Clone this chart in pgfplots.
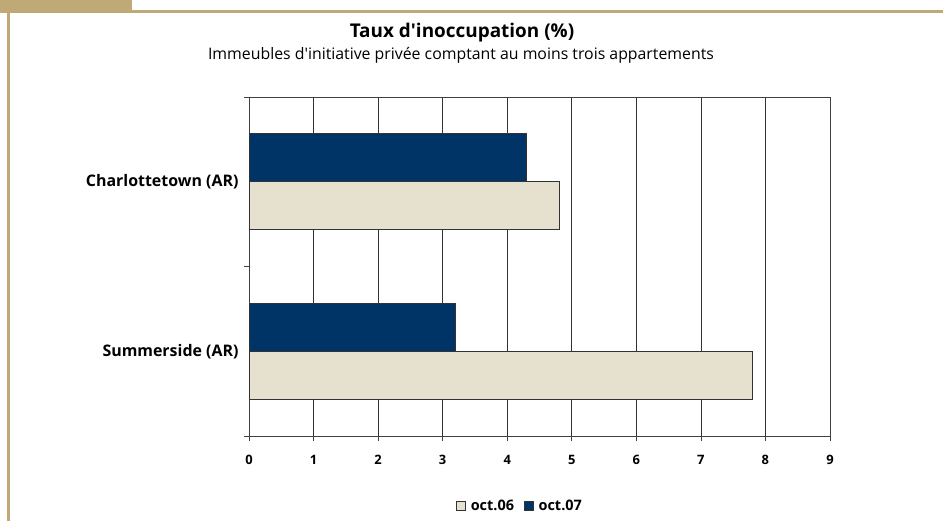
\documentclass[border=0pt]{standalone}
\usepackage{fontspec}
\setmainfont{Open Sans}
\usepackage{pgfplots}
\pgfplotsset{compat=1.18}
\definecolor{navy}{HTML}{003366}
\definecolor{beige}{HTML}{E6E0CF}
\definecolor{tan}{HTML}{BFA977}
\definecolor{axgray}{HTML}{404040}
\begin{document}
\begin{tikzpicture}
\path[use as bounding box] (0,0) rectangle (943bp,-521bp);
\fill[white] (0,0) rectangle (943bp,-521bp);
% frame decoration
\fill[tan] (0,0) rectangle (132bp,-10bp);
\fill[tan] (0,-9.5bp) rectangle (943bp,-12.5bp);
\fill[tan] (7bp,-9.5bp) rectangle (9.5bp,-521bp);
% titles
\node[font=\fontsize{19}{22}\selectfont\bfseries] at (462bp,-33bp) {Taux d\textquotesingle inoccupation (\%)};
\node[font=\fontsize{15.9}{18}\selectfont] at (461bp,-55bp) {Immeubles d\textquotesingle initiative privée comptant au moins trois appartements};
\begin{axis}[
  at={(249bp,-436bp)}, anchor=south west,
  scale only axis, width=581bp, height=339bp,
  xmin=0, xmax=9, ymin=-0.5, ymax=1.5,
  xbar, bar width=0.283,
  xtick={0,1,...,9}, xtick pos=bottom,
  ytick={-0.5,0.5,1.5}, yticklabels={}, ytick pos=left,
  extra y ticks={0,1},
  extra y tick labels={Summerside (AR),Charlottetown (AR)},
  extra y tick style={major tick length=0pt, yticklabel style={font=\fontsize{16}{18}\selectfont\bfseries, xshift=-7bp}},
  tick align=outside, major tick length=5bp,
  tick style={axgray, line width=0.6pt},
  axis line style={axgray, line width=0.8pt},
  xmajorgrids, grid style={black!80, line width=0.6pt},
  /pgf/number format/assume math mode=true,
  xticklabel style={font=\fontsize{13}{15}\selectfont\bfseries, yshift=-11bp},
  legend style={at={(0.4665,-0.206)}, anchor=center, draw=none, legend columns=2,
    font=\fontsize{14.5}{17}\selectfont\bfseries,
    /tikz/every even column/.append style={column sep=8bp},
    /tikz/every odd column/.append style={column sep=3bp}},
  legend image code/.code={\draw[#1, draw=black!80] (0bp,-4.5bp) rectangle (9bp,4.5bp);},
]
\addplot[fill=beige, draw=black!80, line width=0.6pt, bar shift=-0.1415] coordinates {(7.8,0) (4.8,1)};
\addlegendentry{oct.06}
\addplot[fill=navy, draw=black!80, line width=0.6pt, bar shift=0.1415] coordinates {(3.2,0) (4.3,1)};
\addlegendentry{oct.07}
\end{axis}
\end{tikzpicture}
\end{document}
